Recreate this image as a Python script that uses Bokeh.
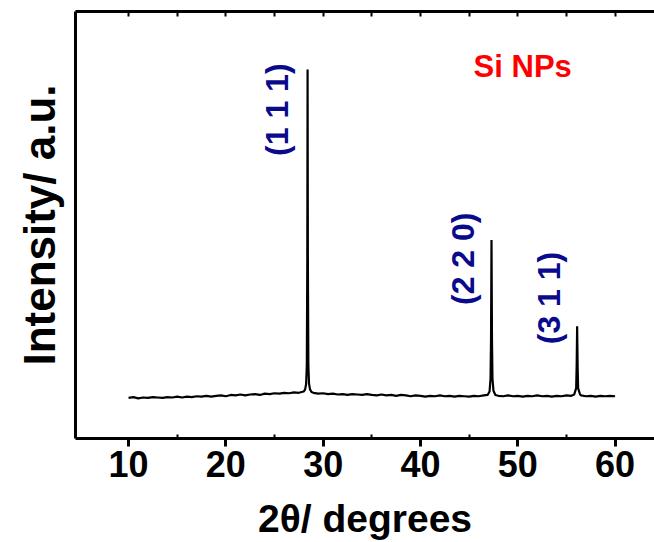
import math
from bokeh.plotting import figure
from bokeh.models import ColumnDataSource, FixedTicker, LinearAxis, Range1d
from bokeh.core.properties import value
from bokeh.embed import file_html
from bokeh.resources import INLINE

# XRD pattern of Si NPs (2theta in degrees, intensity in arbitrary units)
two_theta = [
    10.0, 10.5, 11.0, 11.5, 12.0, 12.5, 13.0, 13.5, 14.0, 14.5,
    15.0, 15.5, 16.0, 16.5, 17.0, 17.5, 18.0, 18.5, 19.0, 19.5,
    20.0, 20.5, 21.0, 21.5, 22.0, 22.5, 23.0, 23.5, 24.0, 24.5,
    25.0, 25.5, 26.0, 26.5, 27.0, 27.5, 28.0,
    28.15, 28.25, 28.32, 28.37, 28.4, 28.43, 28.48, 28.55, 28.65, 28.8,
    29.0, 29.5, 30.0, 30.5, 31.0, 31.5, 32.0, 32.5, 33.0, 33.5,
    34.0, 34.5, 35.0, 35.5, 36.0, 36.5, 37.0, 37.5, 38.0, 38.5,
    39.0, 39.5, 40.0, 40.5, 41.0, 41.5, 42.0, 42.5, 43.0, 43.5,
    44.0, 44.5, 45.0, 45.5, 46.0, 46.5, 46.9,
    47.1, 47.2, 47.25, 47.3, 47.35, 47.4, 47.5, 47.7,
    48.0, 48.5, 49.0, 49.5, 50.0, 50.5, 51.0, 51.5, 52.0, 52.5,
    53.0, 53.5, 54.0, 54.5, 55.0, 55.5, 55.8,
    56.0, 56.05, 56.1, 56.15, 56.2, 56.4,
    56.5, 57.0, 57.5, 58.0, 58.5, 59.0, 59.5, 60.0,
]
intensity = [
    95, 97, 94, 96, 95, 97, 96, 95, 97, 96,
    98, 96, 98, 97, 99, 98, 100, 98, 100, 101,
    99, 102, 101, 103, 101, 103, 104, 102, 105, 104,
    106, 105, 107, 106, 108, 107, 110,
    115, 128, 170, 420, 864, 420, 170, 128, 115, 109,
    107, 105, 106, 104, 105, 103, 104, 102, 104, 103,
    102, 104, 102, 101, 103, 101, 102, 100, 102, 101,
    99, 101, 100, 98, 100, 99, 101, 99, 100, 98,
    100, 99, 98, 100, 99, 101, 102,
    110, 140, 230, 465, 230, 140, 112, 102,
    100, 99, 101, 99, 100, 98, 100, 99, 101, 99,
    100, 98, 100, 99, 101, 100, 103,
    118, 170, 263, 170, 118, 103,
    101, 99, 100, 98, 100, 99, 100, 99,
]

x_ticks = [10, 20, 30, 40, 50, 60]
x_minor_ticks = [15, 25, 35, 45, 55]
top_ticks = [10, 15, 20, 25, 30, 35, 40, 45, 50, 55, 60]

peak_labels = ["(1 1 1)", "(2 2 0)", "(3 1 1)"]
peak_label_x = [25.3, 44.4, 53.2]
peak_label_y = [770, 421, 329]

sample_label = ["Si NPs"]
sample_label_x = [45.46]
sample_label_y = [872]

x_title = "2θ/ degrees"
y_title = "Intensity/ a.u."

FONT = "Liberation Sans"

p = figure(width=654, height=542, output_backend="svg", toolbar_location=None,
           x_range=Range1d(4.55, 64.05), y_range=Range1d(0, 1000),
           min_border_left=75, min_border_right=0, min_border_top=11,
           min_border_bottom=104)
p.outline_line_color = None
p.xgrid.visible = False
p.ygrid.visible = False
p.background_fill_color = "white"
p.border_fill_color = "white"

p.line(two_theta, intensity, line_color="black", line_width=2.2)

src = ColumnDataSource(dict(x=peak_label_x, y=peak_label_y, t=peak_labels))
p.text(x="x", y="y", text="t", source=src, angle=math.pi / 2,
       text_align="center", text_baseline="middle",
       text_font=value(FONT), text_font_style="bold",
       text_font_size="32px", text_color="#0a0a8c")

src2 = ColumnDataSource(dict(x=sample_label_x, y=sample_label_y, t=sample_label))
p.text(x="x", y="y", text="t", source=src2,
       text_align="left", text_baseline="middle",
       text_font=value(FONT), text_font_style="bold",
       text_font_size="31px", text_color="#ff0000")

# bottom axis
xa = p.xaxis[0]
xa.ticker = FixedTicker(ticks=x_ticks, minor_ticks=x_minor_ticks)
xa.axis_line_width = 3
xa.major_tick_line_width = 3
xa.minor_tick_line_width = 2
xa.major_tick_out = 8
xa.major_tick_in = 0
xa.minor_tick_in = 4
xa.minor_tick_out = 0
xa.major_label_text_font = FONT
xa.major_label_text_font_style = "bold"
xa.major_label_text_font_size = "36px"
xa.major_label_text_color = "black"
xa.major_label_standoff = 4
xa.axis_label = x_title
xa.axis_label_text_font = FONT
xa.axis_label_text_font_style = "bold"
xa.axis_label_text_font_size = "39px"
xa.axis_label_text_color = "black"
xa.axis_label_standoff = 17

# left axis (line only) with its title
ya = p.yaxis[0]
ya.ticker = FixedTicker(ticks=[])
ya.axis_line_width = 3
ya.major_tick_line_color = None
ya.minor_tick_line_color = None
ya.major_label_text_color = None
ya.axis_label = y_title
ya.axis_label_text_font = FONT
ya.axis_label_text_font_style = "bold"
ya.axis_label_text_font_size = "44px"
ya.axis_label_text_color = "black"
ya.axis_label_standoff = 12

# top axis (frame line with inward ticks)
ta = LinearAxis(ticker=FixedTicker(ticks=top_ticks, minor_ticks=[]))
ta.axis_line_width = 3
ta.major_tick_line_width = 2
ta.major_tick_in = 5
ta.major_tick_out = 0
ta.minor_tick_line_color = None
ta.major_label_text_color = None
ta.major_label_text_font_size = "1px"
ta.major_label_standoff = 0
p.add_layout(ta, "above")

open("out.html", "w").write(file_html(p, INLINE))
